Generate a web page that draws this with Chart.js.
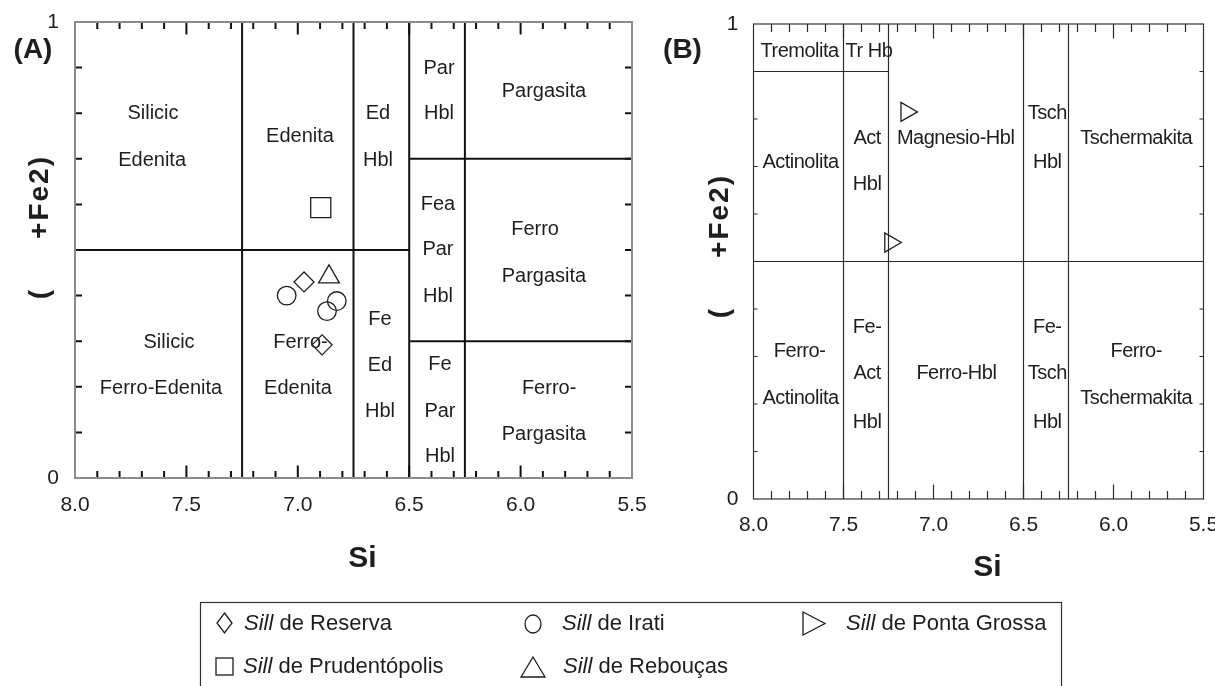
<!DOCTYPE html>
<html>
<head>
<meta charset="utf-8">
<script src="https://cdn.jsdelivr.net/npm/chart.js@4.4.1/dist/chart.umd.min.js"></script>
<style>
  html, body { margin: 0; padding: 0; background: #fff; width: 1215px; height: 686px; overflow: hidden; position: relative; }
  #chartA { position: absolute; left: 0; top: 0; }
  #chartB { position: absolute; left: 640px; top: 0; }
  #legend { position: absolute; left: 0; top: 0; }
</style>
</head>
<body>
<canvas id="chartA" width="670" height="600"></canvas>
<canvas id="chartB" width="600" height="600"></canvas>
<svg id="legend" width="1215" height="686" xmlns="http://www.w3.org/2000/svg"></svg>
<script>
// ---- analyses: Si (apfu) and Mg/(Mg+Fe2) ----
const siReserva = [6.972, 6.891];
const feReserva = [0.430, 0.292];
const siPrudentopolis = [6.897];
const fePrudentopolis = [0.593];
const siIrati = [7.050, 6.825, 6.869];
const feIrati = [0.400, 0.388, 0.366];
const siReboucas = [6.860];
const feReboucas = [0.441];
const siPontaGrossa = [7.150, 7.240];
const fePontaGrossa = [0.815, 0.540];

// ---- axis tick labels ----
const siTickLabels = ['8.0', '7.5', '7.0', '6.5', '6.0', '5.5'];
const ratioTickLabels = ['0', '1'];

// ---- field boundaries [si1, r1, si2, r2] ----
const fieldLinesA = [
  [7.25, 0, 7.25, 1], [6.75, 0, 6.75, 1], [6.5, 0, 6.5, 1], [6.25, 0, 6.25, 1],
  [8.0, 0.5, 6.5, 0.5], [6.5, 0.7, 5.5, 0.7], [6.5, 0.3, 5.5, 0.3]
];
const fieldLinesB = [
  [7.5, 0, 7.5, 1], [7.25, 0, 7.25, 1], [6.5, 0, 6.5, 1], [6.25, 0, 6.25, 1],
  [8.0, 0.5, 5.5, 0.5], [8.0, 0.9, 7.25, 0.9]
];

// ---- field names [text, si, ratio] ----
const fieldNamesA = [
  ['Silicic', 7.650, 0.800], ['Edenita', 7.654, 0.697],
  ['Edenita', 6.990, 0.750],
  ['Ed', 6.640, 0.800], ['Hbl', 6.640, 0.697],
  ['Par', 6.366, 0.900], ['Hbl', 6.366, 0.801],
  ['Pargasita', 5.895, 0.849],
  ['Fea', 6.371, 0.601], ['Par', 6.371, 0.502], ['Hbl', 6.371, 0.399],
  ['Ferro', 5.935, 0.546], ['Pargasita', 5.895, 0.443],
  ['Silicic', 7.578, 0.298], ['Ferro-Edenita', 7.614, 0.198],
  ['Ferro-', 6.988, 0.298], ['Edenita', 6.999, 0.198],
  ['Fe', 6.631, 0.349], ['Ed', 6.631, 0.247], ['Hbl', 6.631, 0.147],
  ['Fe', 6.362, 0.250], ['Par', 6.362, 0.147], ['Hbl', 6.362, 0.048],
  ['Ferro-', 5.872, 0.198], ['Pargasita', 5.895, 0.097]
];
const fieldNamesB = [
  ['Tremolita', 7.744, 0.943], ['Tr Hb', 7.359, 0.943],
  ['Actinolita', 7.739, 0.710],
  ['Act', 7.369, 0.761], ['Hbl', 7.369, 0.663],
  ['Magnesio-Hbl', 6.877, 0.761],
  ['Tsch', 6.368, 0.813], ['Hbl', 6.368, 0.710],
  ['Tschermakita', 5.874, 0.761],
  ['Fe-', 7.369, 0.363], ['Act', 7.369, 0.265], ['Hbl', 7.369, 0.163],
  ['Ferro-', 7.744, 0.312], ['Actinolita', 7.739, 0.213],
  ['Ferro-Hbl', 6.873, 0.265],
  ['Fe-', 6.368, 0.363], ['Tsch', 6.368, 0.265], ['Hbl', 6.368, 0.163],
  ['Ferro-', 5.874, 0.312], ['Tschermakita', 5.874, 0.213]
];

const FAMILY = '"Liberation Sans", Arial, Helvetica, sans-serif';
const INK = '#1e1e1e';

function toPoints(xs, ys) {
  return xs.map((x, i) => ({ x: x, y: ys[i] }));
}

function marker(label, xs, ys, style, radius, rotation) {
  return {
    label: label,
    data: toPoints(xs, ys),
    pointStyle: style,
    pointRadius: radius,
    pointRotation: rotation || 0,
    pointBorderColor: INK,
    pointBorderWidth: 1.3,
    pointBackgroundColor: 'rgba(0,0,0,0)',
    showLine: false
  };
}

// Field boundaries, names, inward tick marks, frame and titles
function diagramPlugin(o) {
  return {
    id: 'diagram',
    beforeDatasetsDraw(chart) {
      const { ctx, chartArea: a } = chart;
      const xs = chart.scales.x, ys = chart.scales.y;
      ctx.save();

      ctx.font = o.nameFont;
      ctx.fillStyle = INK;
      ctx.textAlign = 'center';
      ctx.textBaseline = 'middle';
      ctx.letterSpacing = o.nameSpacing;
      o.names.forEach(([t, si, r]) => {
        ctx.fillText(t, xs.getPixelForValue(si), ys.getPixelForValue(r) + 0.5);
      });
      ctx.letterSpacing = '0px';

      ctx.strokeStyle = o.lineColor;
      ctx.lineWidth = o.lineWidth;
      o.lines.forEach(([x1, y1, x2, y2]) => {
        ctx.beginPath();
        ctx.moveTo(xs.getPixelForValue(x1), ys.getPixelForValue(y1));
        ctx.lineTo(xs.getPixelForValue(x2), ys.getPixelForValue(y2));
        ctx.stroke();
      });

      // tick marks pointing into the plot on all four sides
      ctx.strokeStyle = o.tickColor;
      ctx.lineWidth = o.tickWidth;
      ctx.beginPath();
      for (let i = 1; i < 25; i++) {
        const px = xs.getPixelForValue(8.0 - i * 0.1);
        const len = i % 5 === 0 ? o.majorTick : o.minorTick;
        ctx.moveTo(px, a.bottom); ctx.lineTo(px, a.bottom - len);
        ctx.moveTo(px, a.top); ctx.lineTo(px, a.top + len);
      }
      for (let i = 1; i < 10; i++) {
        const py = ys.getPixelForValue(i * 0.1);
        ctx.moveTo(a.left, py); ctx.lineTo(a.left + o.yTick, py);
        ctx.moveTo(a.right, py); ctx.lineTo(a.right - o.yTick, py);
      }
      ctx.stroke();

      ctx.strokeStyle = o.frameColor;
      ctx.lineWidth = o.frameWidth;
      ctx.strokeRect(a.left, a.top, a.right - a.left, a.bottom - a.top);
      ctx.restore();
    },
    afterDraw(chart) {
      const { ctx, chartArea: a } = chart;
      ctx.save();
      ctx.fillStyle = INK;

      // x title
      ctx.font = 'bold 30px ' + FAMILY;
      ctx.textAlign = 'center';
      ctx.textBaseline = 'middle';
      ctx.fillText('Si', (a.left + a.right) / 2 + o.xTitleShift, a.bottom + o.xTitleGap);

      // y title, read upwards
      ctx.save();
      ctx.translate(o.yTitleX, o.yTitleEnd);
      ctx.rotate(-Math.PI / 2);
      ctx.font = 'bold 28px ' + FAMILY;
      ctx.letterSpacing = '2px';
      ctx.textAlign = 'right';
      ctx.textBaseline = 'middle';
      ctx.fillText('(     +Fe2)', 0, 0);
      ctx.restore();

      // panel letter
      ctx.font = 'bold 28px ' + FAMILY;
      ctx.textAlign = 'center';
      ctx.textBaseline = 'middle';
      ctx.fillText(o.panel, o.panelX, o.panelY);
      ctx.restore();
    }
  };
}

function makePanel(id, datasets, o) {
  const siTicks = siTickLabels.map(Number);
  const rTicks = ratioTickLabels.map(Number);
  return new Chart(document.getElementById(id), {
    type: 'scatter',
    data: { datasets: datasets },
    options: {
      responsive: false,
      animation: false,
      events: [],
      layout: { padding: o.padding },
      plugins: { legend: { display: false }, tooltip: { enabled: false }, title: { display: false } },
      scales: {
        x: {
          type: 'linear', reverse: true, min: 5.5, max: 8.0,
          afterBuildTicks: s => { s.ticks = siTicks.map(v => ({ value: v })); },
          afterFit: s => { s.height = o.xAxisHeight; s.paddingLeft = 0; s.paddingRight = 0; },
          grid: { display: false, drawTicks: false },
          border: { display: false },
          ticks: {
            autoSkip: false, maxRotation: 0, padding: o.xLabelPad, color: INK,
            font: { family: FAMILY, size: 21 },
            callback: v => siTickLabels[siTicks.indexOf(v)] || v.toFixed(1)
          }
        },
        y: {
          type: 'linear', min: 0, max: 1,
          afterBuildTicks: s => { s.ticks = rTicks.map(v => ({ value: v })); },
          afterFit: s => { s.width = o.yAxisWidth; s.paddingTop = 0; s.paddingBottom = 0; },
          grid: { display: false, drawTicks: false },
          border: { display: false },
          ticks: {
            padding: o.yLabelPad, color: INK,
            font: { family: FAMILY, size: 21 },
            callback: v => ratioTickLabels[rTicks.indexOf(v)]
          }
        }
      }
    },
    plugins: [diagramPlugin(o)]
  });
}

makePanel('chartA', [
  marker('Sill de Reserva', siReserva, feReserva, 'rectRot', 10),
  marker('Sill de Prudentópolis', siPrudentopolis, fePrudentopolis, 'rect', 14.2),
  marker('Sill de Irati', siIrati, feIrati, 'circle', 9.3),
  marker('Sill de Rebouças', siReboucas, feReboucas, 'triangle', 12)
], {
  padding: { left: 0, top: 22, right: 38, bottom: 0 },
  xAxisHeight: 122, yAxisWidth: 75, xLabelPad: 15, yLabelPad: 16,
  names: fieldNamesA, nameFont: '20px ' + FAMILY, nameSpacing: '0px',
  lines: fieldLinesA, lineColor: '#111', lineWidth: 2,
  tickColor: '#111', tickWidth: 2, minorTick: 7, majorTick: 12.5, yTick: 7,
  frameColor: '#8c8c8c', frameWidth: 2,
  xTitleShift: 9, xTitleGap: 80.5,
  yTitleX: 40, yTitleEnd: 155,
  panel: '(A)', panelX: 33, panelY: 50
});

makePanel('chartB', [
  marker('Sill de Ponta Grossa', siPontaGrossa, fePontaGrossa, 'triangle', 11, 90)
], {
  padding: { left: 0, top: 24, right: 36.5, bottom: 0 },
  xAxisHeight: 101, yAxisWidth: 113.5, xLabelPad: 14, yLabelPad: 15,
  names: fieldNamesB, nameFont: '20px ' + FAMILY, nameSpacing: '-0.5px',
  lines: fieldLinesB, lineColor: '#2a2a2a', lineWidth: 1.2,
  tickColor: '#2a2a2a', tickWidth: 1.2, minorTick: 8, majorTick: 14.5, yTick: 4,
  frameColor: '#333', frameWidth: 1.2,
  xTitleShift: 9, xTitleGap: 68.5,
  yTitleX: 80, yTitleEnd: 174,
  panel: '(B)', panelX: 42.5, panelY: 50
});

// ---- legend ----
const legendEntries = [
  { name: 'Sill', rest: ' de Reserva', shape: 'diamond', mx: 224.5, my: 623, tx: 244, ty: 630 },
  { name: 'Sill', rest: ' de Irati', shape: 'circle', mx: 533, my: 624, tx: 562, ty: 630 },
  { name: 'Sill', rest: ' de Ponta Grossa', shape: 'triRight', mx: 810, my: 623.5, tx: 846, ty: 630 },
  { name: 'Sill', rest: ' de Prudentópolis', shape: 'square', mx: 224.5, my: 666.5, tx: 243, ty: 673 },
  { name: 'Sill', rest: ' de Rebouças', shape: 'triUp', mx: 533, my: 668, tx: 563, ty: 673 }
];
(function buildLegend() {
  const NS = 'http://www.w3.org/2000/svg';
  const svg = document.getElementById('legend');
  const add = (tag, attrs) => {
    const el = document.createElementNS(NS, tag);
    Object.entries(attrs).forEach(([k, v]) => el.setAttribute(k, v));
    svg.appendChild(el);
    return el;
  };
  add('rect', { x: 200.5, y: 602.5, width: 861, height: 120, fill: 'none', stroke: '#333', 'stroke-width': 1.2 });
  const st = { fill: 'none', stroke: INK, 'stroke-width': 1.3 };
  legendEntries.forEach(e => {
    const { mx, my } = e;
    if (e.shape === 'diamond') {
      add('polygon', Object.assign({ points: `${mx},${my - 10} ${mx + 7.5},${my} ${mx},${my + 10} ${mx - 7.5},${my}` }, st));
    } else if (e.shape === 'circle') {
      add('ellipse', Object.assign({ cx: mx, cy: my, rx: 8, ry: 9 }, st));
    } else if (e.shape === 'triRight') {
      add('polygon', Object.assign({ points: `${mx - 7},${my - 11.5} ${mx + 15},${my} ${mx - 7},${my + 11.5}` }, st));
    } else if (e.shape === 'square') {
      add('rect', Object.assign({ x: mx - 8.5, y: my - 8.5, width: 17, height: 17 }, st));
    } else if (e.shape === 'triUp') {
      add('polygon', Object.assign({ points: `${mx},${my - 11} ${mx + 12},${my + 9} ${mx - 12},${my + 9}` }, st));
    }
    const t = add('text', { x: e.tx, y: e.ty, fill: INK, 'font-size': 22, 'font-family': FAMILY });
    const it = document.createElementNS(NS, 'tspan');
    it.setAttribute('font-style', 'italic');
    it.textContent = e.name;
    t.appendChild(it);
    t.appendChild(document.createTextNode(e.rest));
  });
})();
</script>
</body>
</html>
